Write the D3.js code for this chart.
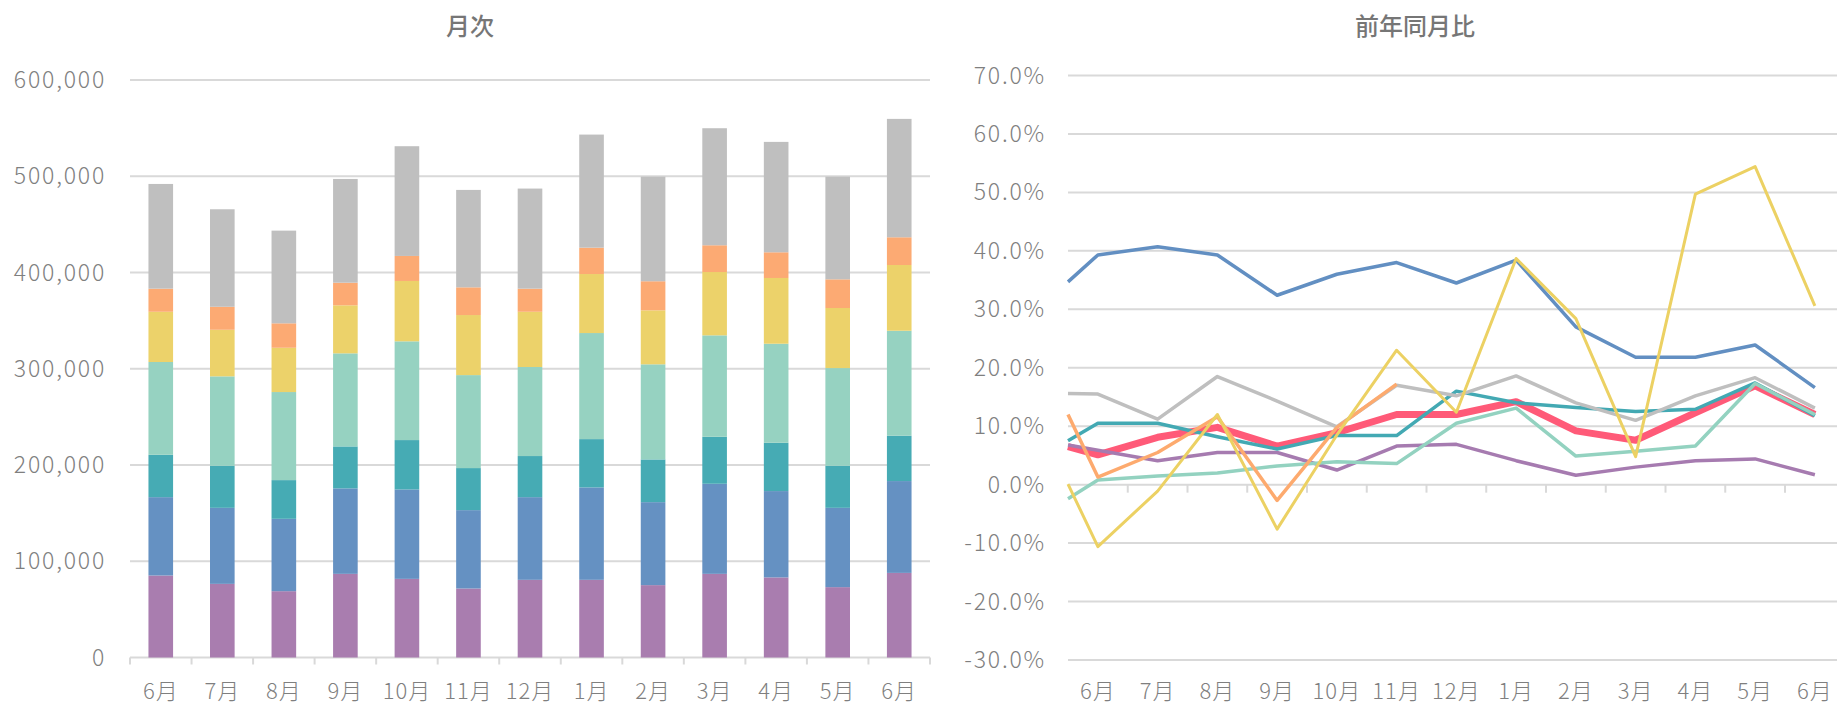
<!DOCTYPE html>
<html>
<head>
<meta charset="utf-8">
<script src="https://cdn.jsdelivr.net/npm/d3@7"></script>
<style>
  body { margin: 0; background: #fff; }
  svg { display: block; }
  text { font-family: "Noto Sans CJK JP", "Noto Sans", sans-serif; fill: #7f7f7f; }
  .tick-label { font-size: 23px; font-weight: 300; letter-spacing: 1.8px; }
  .x-label { font-size: 22px; font-weight: 300; letter-spacing: 1px; }
  .title { font-size: 24px; font-weight: 500; fill: #767676; }
</style>
</head>
<body>
<div id="chart"></div>
<script>
// months on the x axis (both charts)
var months = ["6月", "7月", "8月", "9月", "10月", "11月", "12月", "1月", "2月", "3月", "4月", "5月", "6月"];

// stacked bar segments, bottom to top
var barPurple = [85200, 76500, 68900, 86900, 81700, 71700, 80700, 80700, 75200, 86900, 83200, 73100, 87900];
var barBlue   = [81400, 79000, 75200, 88800, 92900, 81400, 85900, 96000, 86200, 93600, 89700, 82400, 95400];
var barTeal   = [44000, 43700, 40200, 43600, 51300, 43700, 42700, 50200, 44400, 48800, 50200, 43700, 47100];
var barMint   = [96400, 92900, 91500, 96700, 102600, 96600, 92500, 110200, 98800, 105400, 102900, 101500, 109100];
var barYellow = [52200, 48400, 46000, 49900, 62700, 62400, 57400, 61300, 56100, 65800, 68300, 62400, 68300];
var barOrange = [24000, 23900, 25400, 23500, 26000, 28800, 24000, 27400, 30200, 27800, 26700, 29800, 28800];
var barGray   = [108800, 101300, 96300, 107800, 114000, 101200, 104000, 117500, 108700, 121600, 114700, 106700, 123000];

// year-over-year %, first value sits on the left edge of the plot (month before, cut off)
var yoyBlue   = [34.7, 39.3, 40.7, 39.3, 32.4, 36.0, 38.0, 34.5, 38.4, 27.0, 21.8, 21.8, 23.9, 16.6];
var yoyYellow = [0.1, -10.6, -1.1, 12.0, -7.6, 8.5, 23.0, 12.4, 38.7, 28.4, 4.8, 49.7, 54.4, 30.6];
var yoyGray   = [15.6, 15.5, 11.2, 18.5, 14.3, 9.9, 17.0, 15.2, 18.6, 14.0, 11.0, 15.2, 18.3, 13.1];
var yoyTeal   = [7.5, 10.5, 10.5, 8.2, 6.1, 8.4, 8.4, 16.0, 14.0, 13.2, 12.5, 12.9, 17.4, 11.8];
var yoyTotal  = [6.5, 5.1, 8.1, 9.8, 6.6, 8.9, 12.0, 12.0, 14.2, 9.2, 7.6, 12.3, 16.9, 12.0];
var yoyOrange = [12.0, 1.3, 5.5, 11.6, -2.7, 9.8, 17.2, null, null, null, null, null, null, null];
var yoyMint   = [-2.4, 0.8, 1.5, 2.0, 3.2, 3.9, 3.6, 10.5, 13.1, 4.9, 5.7, 6.6, 17.3, 12.0];
var yoyPurple = [6.8, 5.9, 4.1, 5.5, 5.5, 2.5, 6.6, 6.9, 4.1, 1.6, 3.0, 4.1, 4.4, 1.7];

var barTicks = [0, 100000, 200000, 300000, 400000, 500000, 600000];
var yoyTicks = [-30, -20, -10, 0, 10, 20, 30, 40, 50, 60, 70];

var W = 1837, H = 704;
var gridColor = "#d9d9d9";

var svg = d3.select("#chart").append("svg")
    .attr("width", W)
    .attr("height", H);

// ---------- left: monthly stacked bars ----------
var bars = [
    {values: barPurple, color: "#a97daf"},
    {values: barBlue, color: "#6591c2"},
    {values: barTeal, color: "#46abb4"},
    {values: barMint, color: "#96d2c1"},
    {values: barYellow, color: "#ecd26a"},
    {values: barOrange, color: "#fcaa73"},
    {values: barGray, color: "#bfbfbf"}
];

var xb = d3.scaleBand().domain(d3.range(months.length)).range([130, 930]).paddingInner(0.6).paddingOuter(0.3);
var xbOuter = d3.scaleBand().domain(d3.range(months.length)).range([130, 930]);
var yb = d3.scaleLinear().domain([0, 600000]).range([657.5, 80]);

var left = svg.append("g");

left.append("g").selectAll("line")
    .data(barTicks).enter().append("line")
    .attr("x1", 130).attr("x2", 930)
    .attr("y1", d => yb(d)).attr("y2", d => yb(d))
    .attr("stroke", gridColor).attr("stroke-width", 2);

left.append("g").selectAll("text")
    .data(barTicks).enter().append("text")
    .attr("class", "tick-label")
    .attr("x", 106)
    .attr("y", d => yb(d))
    .attr("dy", "0.35em")
    .attr("text-anchor", "end")
    .text(d => d3.format(",")(d));

// stack the segments
var stackRows = months.map((m, i) => {
    var row = {i: i};
    bars.forEach((b, k) => row["s" + k] = b.values[i]);
    return row;
});
var stacked = d3.stack().keys(bars.map((b, k) => "s" + k))(stackRows);

left.append("g").selectAll("g")
    .data(stacked).enter().append("g")
    .attr("fill", (d, k) => bars[k].color)
    .selectAll("rect")
    .data(d => d).enter().append("rect")
    .attr("x", d => xb(d.data.i))
    .attr("width", xb.bandwidth())
    .attr("y", d => yb(d[1]))
    .attr("height", d => yb(d[0]) - yb(d[1]));

// x axis ticks at band edges
left.append("g").selectAll("line")
    .data(d3.range(months.length + 1)).enter().append("line")
    .attr("x1", i => 130 + i * xbOuter.step()).attr("x2", i => 130 + i * xbOuter.step())
    .attr("y1", yb(0)).attr("y2", yb(0) + 7)
    .attr("stroke", gridColor).attr("stroke-width", 2);

left.append("g").selectAll("text")
    .data(months).enter().append("text")
    .attr("class", "x-label")
    .attr("x", (d, i) => xbOuter(i) + xbOuter.bandwidth() / 2)
    .attr("y", 699)
    .attr("text-anchor", "middle")
    .text(d => d);

left.append("text")
    .attr("class", "title")
    .attr("x", 470).attr("y", 35)
    .attr("text-anchor", "middle")
    .text("月次");

// ---------- right: year-over-year lines ----------
var lines = [
    {values: yoyTotal, color: "#ff5a78", width: 7},
    {values: yoyPurple, color: "#a67bb0", width: 3.5},
    {values: yoyBlue, color: "#628fc2", width: 3.5},
    {values: yoyTeal, color: "#43a9b3", width: 3.5},
    {values: yoyMint, color: "#93d2c0", width: 3.5},
    {values: yoyGray, color: "#bfbfbf", width: 3.5},
    {values: yoyOrange, color: "#fdaa6e", width: 3.5},
    {values: yoyYellow, color: "#ecd163", width: 3}
];

var band = 59.75;
var plotLeft = 1068;
// index -0.5 is the left edge of the plot
var xr = d3.scaleLinear().domain([-0.5, 12.5]).range([plotLeft, plotLeft + 13 * band]);
var yr = d3.scaleLinear().domain([-30, 70]).range([660, 75.5]);

var right = svg.append("g");

right.append("g").selectAll("line")
    .data(yoyTicks).enter().append("line")
    .attr("x1", plotLeft).attr("x2", W)
    .attr("y1", d => yr(d)).attr("y2", d => yr(d))
    .attr("stroke", gridColor).attr("stroke-width", 2);

right.append("g").selectAll("text")
    .data(yoyTicks).enter().append("text")
    .attr("class", "tick-label")
    .attr("x", 1046)
    .attr("y", d => yr(d))
    .attr("dy", "0.35em")
    .attr("text-anchor", "end")
    .text(d => d.toFixed(1) + "%");

right.append("g").selectAll("line")
    .data(d3.range(months.length - 1)).enter().append("line")
    .attr("x1", i => xr(i + 0.5)).attr("x2", i => xr(i + 0.5))
    .attr("y1", yr(0)).attr("y2", yr(0) + 8)
    .attr("stroke", gridColor).attr("stroke-width", 2);

right.append("g").selectAll("text")
    .data(months).enter().append("text")
    .attr("class", "x-label")
    .attr("x", (d, i) => xr(i))
    .attr("y", 699)
    .attr("text-anchor", "middle")
    .text(d => d);

var line = d3.line()
    .defined(d => d != null)
    .x((d, i) => xr(Math.max(i - 1, -0.5)))
    .y(d => yr(d));

right.append("g").selectAll("path")
    .data(lines).enter().append("path")
    .attr("d", d => line(d.values))
    .attr("fill", "none")
    .attr("stroke", d => d.color)
    .attr("stroke-width", d => d.width)
    .attr("stroke-linejoin", "round");

right.append("text")
    .attr("class", "title")
    .attr("x", 1415).attr("y", 35)
    .attr("text-anchor", "middle")
    .text("前年同月比");
</script>
</body>
</html>
